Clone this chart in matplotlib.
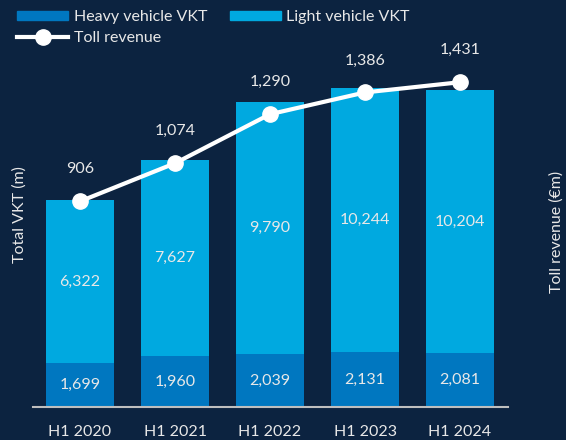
import matplotlib
matplotlib.use('Agg')
import matplotlib.pyplot as plt
import numpy as np
from matplotlib.lines import Line2D
from matplotlib.patches import Patch

periods = ['H1 2020', 'H1 2021', 'H1 2022', 'H1 2023', 'H1 2024']
heavy_vkt = [1699, 1960, 2039, 2131, 2081]
light_vkt = [6322, 7627, 9790, 10244, 10204]
toll_revenue = [906, 1074, 1290, 1386, 1431]

bg = '#0C2340'
heavy_col = '#0077C0'
light_col = '#00A9E0'
txt = '#E8E8E8'

plt.rcParams['font.family'] = ['Lato', 'DejaVu Sans']

W, H = 566, 440
fig = plt.figure(figsize=(W / 100, H / 100), dpi=100, facecolor=bg)
ax_l, ax_b, ax_r, ax_t = 32.5, 407, 507.5, 40
ax = fig.add_axes([ax_l / W, 1 - ax_b / H, (ax_r - ax_l) / W, (ax_b - ax_t) / H])
ax.set_facecolor(bg)

x = np.arange(len(periods))
w = 0.716
ax.bar(x, heavy_vkt, w, color=heavy_col, zorder=2)
ax.bar(x, light_vkt, w, bottom=heavy_vkt, color=light_col, zorder=2)
for i in range(len(x)):
    ax.text(x[i], heavy_vkt[i] / 2, f'{heavy_vkt[i]:,}', ha='center', va='center',
            color=txt, fontsize=11.5)
    ax.text(x[i], heavy_vkt[i] + light_vkt[i] / 2, f'{light_vkt[i]:,}', ha='center',
            va='center', color=txt, fontsize=11.5)

ax.set_xlim(-0.5, 4.5)
ax.set_ylim(0, 14225)
ax.set_xticks(x)
ax.set_xticklabels(periods, fontsize=11.5, color=txt)
ax.tick_params(axis='x', length=0, pad=13)
ax.set_yticks([])
for s in ['top', 'left', 'right']:
    ax.spines[s].set_visible(False)
ax.spines['bottom'].set_color('#BFBFBF')
ax.spines['bottom'].set_linewidth(1.5)

ax2 = ax.twinx()
ax2.set_ylim(0, 1617)
ax2.plot(x, toll_revenue, color='white', lw=3, marker='o', markersize=11, zorder=3)
for i in range(len(x)):
    ax2.annotate(f'{toll_revenue[i]:,}', (x[i], toll_revenue[i]), textcoords='offset points',
                 xytext=(0, 18), ha='center', va='bottom', color=txt, fontsize=11.5)
ax2.set_yticks([])
for s in ['top', 'left', 'right', 'bottom']:
    ax2.spines[s].set_visible(False)

fig.text(20 / W, 1 - 215 / H, 'Total VKT (m)', rotation=90, ha='center', va='center',
         color=txt, fontsize=11.5)
fig.text(557 / W, 1 - 232 / H, 'Toll revenue (€m)', rotation=90, ha='center', va='center',
         color=txt, fontsize=11.5)

handles = [Patch(color=heavy_col), Patch(color=light_col),
           Line2D([0], [0], color='white', lw=3, marker='o', markersize=11)]
labels = ['Heavy vehicle VKT', 'Light vehicle VKT', 'Toll revenue']
fig.legend(handles[:2], labels[:2], ncol=2, loc='upper left', bbox_to_anchor=(0.005, 1.01),
           frameon=False, fontsize=11.5, labelcolor=txt, handlelength=3.2, handleheight=0.5,
           columnspacing=1.4, handletextpad=0.35)
fig.legend(handles[2:], labels[2:], loc='upper left', bbox_to_anchor=(0.005, 0.962),
           frameon=False, fontsize=11.5, labelcolor=txt, handlelength=3.2,
           handletextpad=0.35)

fig.savefig('out.png', dpi=100, facecolor=bg)
